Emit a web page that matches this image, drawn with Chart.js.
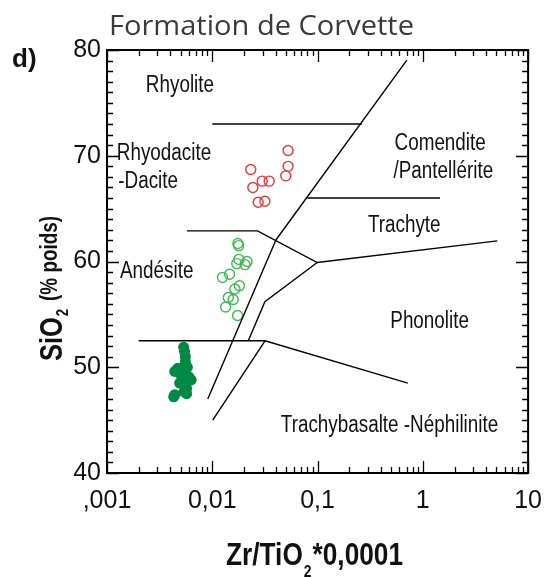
<!DOCTYPE html>
<html>
<head>
<meta charset="utf-8">
<script src="https://cdn.jsdelivr.net/npm/chart.js@4.4.0/dist/chart.umd.min.js"></script>
<style>
  html, body { margin: 0; padding: 0; background: #fff; }
  #wrap { width: 555px; height: 578px; position: relative; }
</style>
</head>
<body>
<div id="wrap"><canvas id="chart"></canvas></div>
<script>
// samples (Zr/TiO2*0,0001 vs SiO2)
const rhyodaciteX = [0.0525, 0.0525, 0.0499, 0.0232, 0.0298, 0.0347, 0.0243, 0.0273, 0.0316];
const rhyodaciteY = [70.5, 69.0, 68.1, 68.7, 67.6, 67.6, 67.0, 65.6, 65.7];

const andesiteX = [0.0175, 0.0178, 0.0179, 0.0214, 0.0171, 0.0205, 0.0125, 0.0146, 0.0181, 0.0164, 0.0142, 0.0158, 0.0134, 0.0174];
const andesiteY = [61.7, 61.5, 60.2, 60.0, 59.8, 59.7, 58.5, 58.8, 57.7, 57.4, 56.6, 56.4, 55.7, 54.9];

const basaltX = [0.00535, 0.00545, 0.00555, 0.00555, 0.0047, 0.0044, 0.0053, 0.0060, 0.0063, 0.0052, 0.0049, 0.0057, 0.0054, 0.0044, 0.0043, 0.0057, 0.0050, 0.0058];
const basaltY = [51.9, 51.5, 51.0, 50.5, 49.9, 49.6, 49.7, 49.1, 48.8, 48.6, 48.5, 48.0, 47.7, 47.4, 47.2, 47.5, 49.3, 50.0];

// field boundaries (Winchester & Floyd)
const rhyoliteLineX = [0.01, 0.264];
const rhyoliteLineY = [73, 73];
const mainUpperX = [0.705, 0.0402];
const mainUpperY = [79.05, 62.03];
const comenditeLineX = [0.08, 1.456];
const comenditeLineY = [66, 66];
const andesiteTopX = [0.00574, 0.0269, 0.0993, 5.1];
const andesiteTopY = [62.9, 62.9, 59.9, 61.95];
const mainLowerX = [0.0402, 0.00906];
const mainLowerY = [62.03, 47.0];
const secondLineX = [0.0993, 0.0316, 0.022];
const secondLineY = [59.9, 56.2, 52.5];
const basaltTopX = [0.002, 0.0317, 0.72];
const basaltTopY = [52.5, 52.5, 48.5];
const secondLowerX = [0.0317, 0.0101];
const secondLowerY = [52.5, 45.0];

// field names
const fieldNames = ['Rhyolite', 'Rhyodacite', '-Dacite', 'Comendite', '/Pantellérite', 'Trachyte', 'Andésite', 'Phonolite', 'Trachybasalte -Néphilinite'];
const fieldX = [0.00234, 0.00124, 0.00128, 0.539, 0.527, 0.301, 0.00133, 0.491, 0.0448];
const fieldY = [76.06, 69.6, 66.92, 70.54, 67.87, 62.82, 58.41, 53.68, 43.91];

const xTickValues = [0.001, 0.01, 0.1, 1, 10];
const xTickLabels = [',001', '0,01', '0,1', '1', '10'];

const SANS = "'Liberation Sans', Arial, sans-serif";
const NARROW = 0.82; // horizontal squeeze to mimic Arial Narrow

function pts(xs, ys) {
    return xs.map((x, i) => ({ x: x, y: ys[i] }));
}

function boundary(xs, ys) {
    return {
        type: 'line',
        data: pts(xs, ys),
        borderColor: '#000',
        borderWidth: 1.4,
        pointRadius: 0,
        fill: false,
        tension: 0
    };
}

// draws narrow text, returns its drawn width
function narrowText(ctx, text, x, y, font) {
    ctx.font = font;
    ctx.save();
    ctx.translate(x, y);
    ctx.scale(NARROW, 1);
    ctx.fillText(text, 0, 0);
    ctx.restore();
    return ctx.measureText(text).width * NARROW;
}

const framePlugin = {
    id: 'frame',
    afterDraw(chart) {
        const ctx = chart.ctx;
        const a = chart.chartArea;
        const xs = chart.scales.x;
        const ys = chart.scales.y;

        ctx.save();
        ctx.strokeStyle = '#000';

        // inward ticks
        ctx.lineWidth = 1.3;
        ctx.beginPath();
        for (let k = -3; k <= 1; k++) {
            for (let m = 1; m <= 9; m++) {
                const v = m * Math.pow(10, k);
                if (v > 10.0001) break;
                const px = Math.round(xs.getPixelForValue(v)) + 0.5;
                const len = m === 1 ? 12 : 6;
                ctx.moveTo(px, a.bottom);
                ctx.lineTo(px, a.bottom - len);
                ctx.moveTo(px, a.top);
                ctx.lineTo(px, a.top + len);
            }
        }
        for (let v = 40; v <= 80; v++) {
            const py = Math.round(ys.getPixelForValue(v)) + 0.5;
            const len = v % 10 === 0 ? 12 : 6;
            ctx.moveTo(a.left, py);
            ctx.lineTo(a.left + len, py);
            ctx.moveTo(a.right, py);
            ctx.lineTo(a.right - len, py);
        }
        ctx.stroke();

        // frame
        ctx.lineWidth = 2;
        ctx.strokeRect(a.left, a.top, a.right - a.left, a.bottom - a.top);

        // field names
        ctx.fillStyle = '#111';
        ctx.textAlign = 'left';
        ctx.textBaseline = 'alphabetic';
        fieldNames.forEach((name, i) => {
            narrowText(ctx, name, xs.getPixelForValue(fieldX[i]), ys.getPixelForValue(fieldY[i]), '23px ' + SANS);
        });

        // title
        ctx.fillStyle = '#3a3a3a';
        ctx.font = '28px "Open Sans", "DejaVu Sans", sans-serif';
        const title = 'Formation de Corvette';
        const tw = ctx.measureText(title).width;
        ctx.save();
        ctx.translate(109, 35);
        ctx.scale(305 / tw, 1);
        ctx.fillText(title, 0, 0);
        ctx.restore();

        // panel letter
        ctx.fillStyle = '#111';
        ctx.font = 'bold 26px ' + SANS;
        ctx.fillText('d)', 12, 67);

        // x axis title
        let x = 226;
        x += narrowText(ctx, 'Zr/TiO', x, 565, 'bold 32px ' + SANS);
        x += narrowText(ctx, '2', x + 1, 577, 'bold 17px ' + SANS) + 2;
        narrowText(ctx, '*0,0001', x, 565, 'bold 32px ' + SANS);

        // y axis title
        ctx.save();
        ctx.translate(62, 361);
        ctx.rotate(-Math.PI / 2);
        let w = narrowText(ctx, 'SiO', 0, 0, 'bold 31px ' + SANS);
        w += narrowText(ctx, '2', w + 1, 6, 'bold 16px ' + SANS) + 9;
        narrowText(ctx, '(% poids)', w, -5, 'bold 23px ' + SANS);
        ctx.restore();

        ctx.restore();
    }
};

new Chart(document.getElementById('chart'), {
    type: 'scatter',
    data: {
        datasets: [
            boundary(rhyoliteLineX, rhyoliteLineY),
            boundary(mainUpperX, mainUpperY),
            boundary(comenditeLineX, comenditeLineY),
            boundary(andesiteTopX, andesiteTopY),
            boundary(mainLowerX, mainLowerY),
            boundary(secondLineX, secondLineY),
            boundary(basaltTopX, basaltTopY),
            boundary(secondLowerX, secondLowerY),
            {
                label: 'Rhyodacite',
                data: pts(rhyodaciteX, rhyodaciteY),
                pointStyle: 'circle',
                pointRadius: 5,
                pointBorderWidth: 1.4,
                borderColor: 'rgb(232, 52, 60)',
                backgroundColor: 'rgba(0,0,0,0)'
            },
            {
                label: 'Andésite',
                data: pts(andesiteX, andesiteY),
                pointStyle: 'circle',
                pointRadius: 5,
                pointBorderWidth: 1.4,
                borderColor: 'rgb(64, 184, 84)',
                backgroundColor: 'rgba(0,0,0,0)'
            },
            {
                label: 'Basalte',
                data: pts(basaltX, basaltY),
                pointStyle: 'circle',
                pointRadius: 5.5,
                pointBorderWidth: 0,
                borderColor: 'rgb(0, 137, 68)',
                backgroundColor: 'rgb(0, 137, 68)'
            }
        ]
    },
    options: {
        responsive: true,
        maintainAspectRatio: false,
        animation: false,
        layout: {
            padding: { top: 50, right: 25, left: 0, bottom: 0 }
        },
        plugins: {
            legend: { display: false },
            tooltip: { enabled: false }
        },
        scales: {
            x: {
                type: 'logarithmic',
                min: 0.001,
                max: 10,
                grid: { display: false, drawTicks: false },
                border: { display: false },
                afterBuildTicks: s => {
                    s.ticks = xTickValues.map(v => ({ value: v }));
                },
                afterFit: s => { s.height = 105; },
                ticks: {
                    autoSkip: false,
                    maxRotation: 0,
                    padding: 13,
                    color: '#111',
                    font: { family: SANS, size: 25 },
                    callback: (v) => {
                        const i = xTickValues.indexOf(v);
                        return i >= 0 ? xTickLabels[i] : '';
                    }
                }
            },
            y: {
                min: 40,
                max: 80,
                grid: { display: false, drawTicks: false },
                border: { display: false },
                afterFit: s => { s.width = 107; },
                ticks: {
                    stepSize: 10,
                    padding: 6,
                    color: '#111',
                    font: { family: SANS, size: 25 }
                }
            }
        }
    },
    plugins: [framePlugin]
});
</script>
</body>
</html>
